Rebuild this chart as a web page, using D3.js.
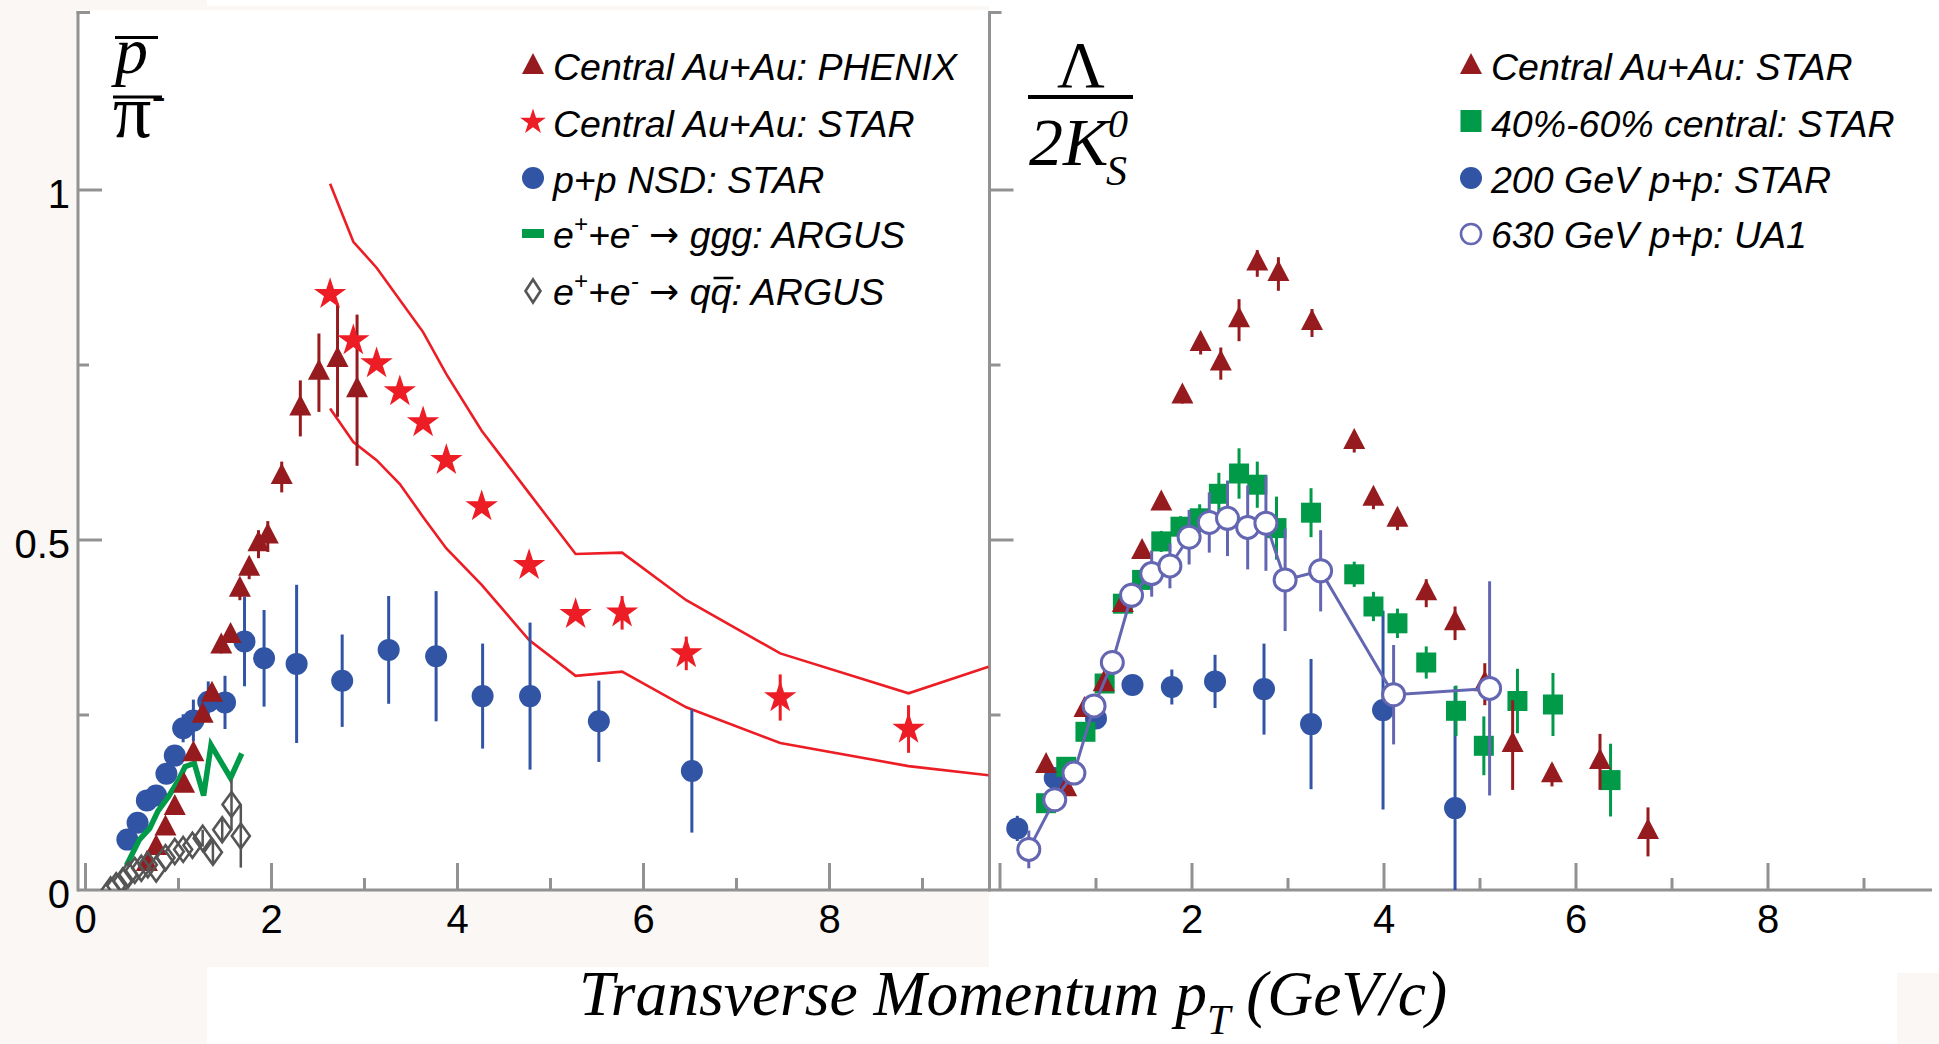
<!DOCTYPE html>
<html><head><meta charset="utf-8">
<script src="https://cdn.jsdelivr.net/npm/d3@7/dist/d3.min.js"></script>
<style>
html,body{margin:0;padding:0;background:#faf7f4;}
svg{display:block;}
</style></head><body>
<svg id="chart" width="1939" height="1044"></svg>
<script>
// ================= DATA: left panel  (pbar / pi-) =================
const phenixX   = [0.66,0.76,0.86,0.96,1.06,1.16,1.26,1.36,1.46,1.56,1.66,1.76,1.86,1.96,2.11,2.31,2.51,2.71,2.92];
const phenixY   = [0.037,0.060,0.088,0.117,0.149,0.194,0.249,0.279,0.348,0.363,0.429,0.459,0.494,0.505,0.590,0.688,0.739,0.757,0.714];
const phenixErr = [0,0,0,0,0,0,0,0,0.01,0.01,0.015,0.015,0.02,0.022,0.022,0.04,0.056,0.081,0.108];

const starAuX   = [2.63,2.88,3.13,3.38,3.63,3.88,4.26,4.77,5.27,5.77,6.46,7.47,8.85];
const starAuY   = [0.851,0.785,0.752,0.712,0.668,0.614,0.548,0.464,0.394,0.396,0.338,0.275,0.230];
const starAuErr = [0,0,0,0,0,0,0,0,0,0.024,0.024,0.033,0.034];

const bandX  = [2.63,2.88,3.13,3.38,3.63,3.88,4.26,4.77,5.27,5.77,6.46,7.47,8.85,9.71];
const bandHi = [1.009,0.926,0.889,0.843,0.797,0.737,0.656,0.567,0.480,0.482,0.414,0.338,0.281,0.319];
const bandLo = [0.688,0.640,0.614,0.580,0.533,0.488,0.436,0.357,0.306,0.312,0.261,0.210,0.177,0.164];

const ppNsdX   = [0.45,0.56,0.66,0.76,0.87,0.96,1.05,1.16,1.32,1.50,1.71,1.92,2.27,2.76,3.26,3.77,4.27,4.78,5.52,6.52];
const ppNsdY   = [0.072,0.096,0.128,0.135,0.166,0.192,0.231,0.242,0.269,0.268,0.355,0.331,0.323,0.299,0.343,0.334,0.277,0.277,0.241,0.170];
const ppNsdErr = [0,0,0,0,0.01,0.015,0.02,0.03,0.029,0.038,0.064,0.069,0.113,0.066,0.077,0.093,0.075,0.105,0.058,0.088];

const gggX = [0.44,0.58,0.69,0.78,0.89,1.00,1.07,1.17,1.27,1.35,1.56,1.68];
const gggY = [0.035,0.072,0.088,0.113,0.133,0.157,0.176,0.181,0.135,0.207,0.160,0.195];

const qqX   = [0.27,0.33,0.40,0.46,0.53,0.60,0.67,0.76,0.86,0.96,1.05,1.15,1.26,1.37,1.47,1.57,1.67];
const qqY   = [0.0,0.006,0.013,0.022,0.028,0.031,0.036,0.030,0.046,0.055,0.058,0.064,0.074,0.054,0.086,0.122,0.077];
const qqErr = [0,0,0,0,0,0,0,0,0,0,0,0,0.012,0.015,0.015,0.036,0.045];

// ================= DATA: right panel (Lambda / 2K0s) =================
const lkAuX   = [0.48,0.69,0.88,1.08,1.28,1.48,1.68,1.90,2.09,2.30,2.49,2.68,2.90,3.25,3.69,3.89,4.14,4.44,4.74,5.05,5.34,5.75,6.25,6.75];
const lkAuY   = [0.177,0.144,0.257,0.294,0.407,0.483,0.552,0.705,0.780,0.752,0.814,0.895,0.880,0.810,0.640,0.559,0.529,0.424,0.381,0.294,0.207,0.164,0.183,0.083];
const lkAuErr = [0,0,0,0,0,0,0,0.01,0.015,0.023,0.03,0.019,0.024,0.02,0.015,0.015,0.015,0.02,0.024,0.03,0.064,0.016,0.04,0.035];

const lkMidX   = [0.48,0.69,0.89,1.09,1.28,1.48,1.68,1.88,2.08,2.28,2.49,2.68,2.88,3.24,3.69,3.89,4.14,4.44,4.75,5.04,5.39,5.76,6.36];
const lkMidY   = [0.124,0.176,0.226,0.295,0.409,0.443,0.498,0.519,0.531,0.566,0.595,0.579,0.517,0.539,0.451,0.405,0.381,0.325,0.256,0.206,0.270,0.265,0.157];
const lkMidErr = [0,0,0,0,0.01,0.01,0.015,0.015,0.02,0.03,0.036,0.033,0.045,0.035,0.018,0.021,0.021,0.023,0.036,0.042,0.046,0.045,0.052];

const lkPpX   = [0.18,0.57,1.00,1.38,1.79,2.24,2.75,3.24,3.99,4.74];
const lkPpY   = [0.088,0.160,0.245,0.293,0.290,0.298,0.287,0.237,0.257,0.117];
const lkPpErr = [0.018,0,0,0,0.025,0.038,0.065,0.093,0.142,0.174];

const ua1X   = [0.30,0.57,0.77,0.98,1.17,1.37,1.58,1.77,1.97,2.18,2.37,2.58,2.77,2.97,3.34,4.10,5.10];
const ua1Y   = [0.058,0.129,0.167,0.263,0.325,0.421,0.452,0.463,0.504,0.525,0.531,0.518,0.524,0.443,0.456,0.279,0.288];
const ua1Err = [0.027,0,0.01,0.01,0.015,0.018,0.033,0.032,0.039,0.043,0.054,0.06,0.068,0.073,0.058,0.071,0.153];

// ================= ticks & labels =================
const xTicks = [0,1,2,3,4,5,6,7,8,9];
const xLabelsLeft  = [0,2,4,6,8];
const xLabelsRight = [2,4,6,8];
const yTicks = [0.25,0.5,0.75,1];
const yLabelVals = [0,0.5,1];
const yLabelText = ["0","0.5","1"];
const legendLeft  = ["Central Au+Au: PHENIX","Central Au+Au: STAR","p+p NSD: STAR"];
const legendRight = ["Central Au+Au: STAR","40%-60% central: STAR","200 GeV p+p: STAR","630 GeV p+p: UA1"];

// ================= styles =================
const C = {phenix:'#951b1e', star:'#ec1d25', pp:'#3154a5', ggg:'#009a48', qq:'#555555', ua1:'#6466b2', axis:'#929292', off:'#faf7f4'};
const SANS = '"Liberation Sans", Arial, Helvetica, sans-serif';
const SERIF = '"Liberation Serif", "Times New Roman", serif';

const svg = d3.select('#chart');
const zip = (xs, ys, es) => xs.map((x,i)=>({x, y:ys[i], e: es ? es[i] : 0}));

// backgrounds
svg.append('rect').attr('width',1939).attr('height',1044).attr('fill',C.off);
[[78,10,911,880],[989,0,950,1044],[207,967,782,77],[207,0,782,6]].forEach(r=>
  svg.append('rect').attr('x',r[0]).attr('y',r[1]).attr('width',r[2]).attr('height',r[3]).attr('fill','#fff'));
svg.append('rect').attr('x',1897).attr('y',973).attr('width',42).attr('height',71).attr('fill',C.off);

// scales
const yS = d3.scaleLinear().domain([0,1]).range([890,190]);
const xL = d3.scaleLinear().domain([0,9]).range([85.5,922.5]);
const xR = d3.scaleLinear().domain([0,9]).range([1000,1864]);

// ---------- axes ----------
const ax = svg.append('g').attr('stroke',C.axis).attr('stroke-width',3).attr('fill','none');
function yAxis(x0){
  ax.append('line').attr('x1',x0).attr('x2',x0).attr('y1',yS(1.255)).attr('y2',891.5);
  ax.append('line').attr('x1',x0-1.5).attr('x2',x0+12).attr('y1',yS(1.255)+1).attr('y2',yS(1.255)+1);
  yTicks.forEach(v=>{
    const len = (v===0.5||v===1) ? 24 : 11;
    ax.append('line').attr('x1',x0).attr('x2',x0+len).attr('y1',yS(v)).attr('y2',yS(v));
  });
}
function xAxis(xs, x0, x1){
  ax.append('line').attr('x1',x0).attr('x2',x1).attr('y1',890).attr('y2',890);
  xTicks.forEach(v=>{
    const len = v%2===0 ? 27 : 12;
    ax.append('line').attr('x1',xs(v)).attr('x2',xs(v)).attr('y1',890).attr('y2',890-len);
  });
}
yAxis(78); xAxis(xL,78,989);
yAxis(989.5); xAxis(xR,989,1932);

const tl = svg.append('g').attr('font-family',SANS).attr('font-size',40).attr('fill','#000');
xLabelsLeft.forEach(v=>tl.append('text').attr('x',xL(v)).attr('y',933).attr('text-anchor','middle').text(v));
xLabelsRight.forEach(v=>tl.append('text').attr('x',xR(v)).attr('y',933).attr('text-anchor','middle').text(v));
yLabelVals.forEach((v,i)=>tl.append('text').attr('x',70).attr('y',yS(v)+18).attr('text-anchor','end').text(yLabelText[i]));

// ---------- marker helpers ----------
const triPath = (w,h)=>`M0,${-2*h/3}L${w/2},${h/3}L${-w/2},${h/3}Z`;
const diaPath = (w,h)=>`M0,${-h/2}L${w/2},0L0,${h/2}L${-w/2},0Z`;
const starPath = R => d3.symbol(d3.symbolStar, R*R/0.8908130915292852)();

function errBars(g, data, xs, color, w){
  g.append('g').attr('stroke',color).attr('stroke-width',w||3)
    .selectAll('line').data(data.filter(d=>d.e>0)).join('line')
    .attr('x1',d=>xs(d.x)).attr('x2',d=>xs(d.x))
    .attr('y1',d=>yS(d.y+d.e)).attr('y2',d=>yS(Math.max(0,d.y-d.e)));
}
function markers(g, data, xs, path, fill, stroke, sw){
  g.append('g').selectAll('path').data(data).join('path')
    .attr('d',path).attr('transform',d=>`translate(${xs(d.x)},${yS(d.y)})`)
    .attr('fill',fill).attr('stroke',stroke||'none').attr('stroke-width',sw||0);
}
function dots(g, data, xs, r, fill, stroke, sw){
  g.append('g').selectAll('circle').data(data).join('circle')
    .attr('cx',d=>xs(d.x)).attr('cy',d=>yS(d.y)).attr('r',r)
    .attr('fill',fill).attr('stroke',stroke||'none').attr('stroke-width',sw||0);
}

// ---------- left panel ----------
svg.append('clipPath').attr('id','clipL').append('rect').attr('x',78).attr('y',0).attr('width',911).attr('height',890);
const gL = svg.append('g').attr('clip-path','url(#clipL)');

const lineL = d3.line().x(d=>xL(d.x)).y(d=>yS(d.y));
gL.append('path').datum(zip(bandX,bandHi)).attr('d',lineL).attr('fill','none').attr('stroke',C.star).attr('stroke-width',2.6);
gL.append('path').datum(zip(bandX,bandLo)).attr('d',lineL).attr('fill','none').attr('stroke',C.star).attr('stroke-width',2.6);

const ppNsd = zip(ppNsdX,ppNsdY,ppNsdErr);
errBars(gL, ppNsd, xL, C.pp); dots(gL, ppNsd, xL, 11, C.pp);

gL.append('path').datum(zip(gggX,gggY)).attr('d',lineL).attr('fill','none').attr('stroke',C.ggg).attr('stroke-width',5.5).attr('stroke-linejoin','miter');

const phen = zip(phenixX,phenixY,phenixErr);
errBars(gL, phen, xL, C.phenix); markers(gL, phen, xL, triPath(22,21), C.phenix);

const qq = zip(qqX,qqY,qqErr);
errBars(gL, qq, xL, C.qq, 2.5); markers(gL, qq, xL, diaPath(18,25), 'none', C.qq, 2.6);

const stAu = zip(starAuX,starAuY,starAuErr);
errBars(gL, stAu, xL, C.star); markers(gL, stAu, xL, starPath(17), C.star);

// ---------- right panel ----------
const gR = svg.append('g');
const lkPp = zip(lkPpX,lkPpY,lkPpErr);
errBars(gR, lkPp, xR, C.pp); dots(gR, lkPp, xR, 11, C.pp);
const lkMid = zip(lkMidX,lkMidY,lkMidErr);
errBars(gR, lkMid, xR, C.ggg); markers(gR, lkMid, xR, 'M-10,-10H10V10H-10Z', C.ggg);
const lkAu = zip(lkAuX,lkAuY,lkAuErr);
errBars(gR, lkAu, xR, C.phenix); markers(gR, lkAu, xR, triPath(22,21), C.phenix);
const ua1 = zip(ua1X,ua1Y,ua1Err);
errBars(gR, ua1, xR, C.ua1);
gR.append('path').datum(ua1).attr('d',d3.line().x(d=>xR(d.x)).y(d=>yS(d.y))).attr('fill','none').attr('stroke',C.ua1).attr('stroke-width',3);
dots(gR, ua1, xR, 11, '#fff', C.ua1, 3);

// ---------- legends ----------
function legText(x,y,parts){
  const t = svg.append('text').attr('x',x).attr('y',y).attr('font-family',SANS)
    .attr('font-style','italic').attr('font-size',37.5).attr('fill','#000');
  parts.forEach(p=>{
    const s = t.append('tspan').text(p.t);
    if(p.size) s.attr('font-size',p.size);
    if(p.dy) s.attr('dy',p.dy);
    if(p.family) s.attr('font-family',p.family);
    if(p.style) s.attr('font-style',p.style);
  });
  return t;
}
const LB = [80,137,193,248,305];
const lx = 533, ltx = 553;
svg.append('path').attr('d',triPath(22,21)).attr('transform',`translate(${lx},${LB[0]-13})`).attr('fill',C.phenix);
svg.append('path').attr('d',starPath(13.5)).attr('transform',`translate(${lx},${LB[1]-15})`).attr('fill',C.star);
svg.append('circle').attr('cx',lx).attr('cy',LB[2]-15).attr('r',11).attr('fill',C.pp);
svg.append('rect').attr('x',lx-11).attr('y',LB[3]-19).attr('width',22).attr('height',9).attr('fill',C.ggg);
svg.append('path').attr('d',diaPath(15,23)).attr('transform',`translate(${lx},${LB[4]-14})`).attr('fill','none').attr('stroke',C.qq).attr('stroke-width',2.6);
legendLeft.forEach((s,i)=>legText(ltx,LB[i],[{t:s}]));
const arrow = {t:'\u2192', family:'"DejaVu Sans", sans-serif', style:'normal', size:36, dy:-1};
legText(ltx,LB[3],[{t:'e'},{t:'+',size:24,dy:-16},{t:'+e',size:37.5,dy:16},{t:'-',size:24,dy:-16},{t:' ',size:37.5,dy:16},arrow,{t:' ggg: ARGUS',size:37.5,dy:1}]);
const qt = legText(ltx,LB[4],[{t:'e'},{t:'+',size:24,dy:-16},{t:'+e',size:37.5,dy:16},{t:'-',size:24,dy:-16},{t:' ',size:37.5,dy:16},arrow,{t:' q',size:37.5,dy:1},{t:'q'},{t:': ARGUS'}]);
{
  const n = qt.node();
  const s = n.getStartPositionOfChar(9).x, e = n.getEndPositionOfChar(9).x;
  svg.append('line').attr('x1',s+3).attr('x2',e+2).attr('y1',LB[4]-27).attr('y2',LB[4]-27).attr('stroke','#000').attr('stroke-width',2.5);
}

const rx = 1471, rtx = 1491;
svg.append('path').attr('d',triPath(22,21)).attr('transform',`translate(${rx},${LB[0]-13})`).attr('fill',C.phenix);
svg.append('rect').attr('x',rx-10.5).attr('y',LB[1]-27).attr('width',21).attr('height',22).attr('fill',C.ggg);
svg.append('circle').attr('cx',rx).attr('cy',LB[2]-15).attr('r',11).attr('fill',C.pp);
svg.append('circle').attr('cx',rx).attr('cy',LB[3]-14).attr('r',10).attr('fill','#fff').attr('stroke',C.ua1).attr('stroke-width',2.6);
legendRight.forEach((s,i)=>legText(rtx,LB[i],[{t:s}]));

// ---------- y labels (fractions) ----------
const lab = svg.append('g').attr('font-family',SERIF).attr('fill','#000');
lab.append('text').attr('x',115).attr('y',73).attr('font-size',66).attr('font-style','italic').text('p');
lab.append('line').attr('x1',115).attr('x2',158).attr('y1',37.5).attr('y2',37.5).attr('stroke','#000').attr('stroke-width',3);
lab.append('line').attr('x1',113).attr('x2',162).attr('y1',97).attr('y2',97).attr('stroke','#000').attr('stroke-width',3);
lab.append('text').attr('x',113).attr('y',137).attr('font-size',76).text('\u03c0');
lab.append('text').attr('x',152).attr('y',109).attr('font-size',40).text('-');

lab.append('text').attr('x',1081).attr('y',87).attr('font-size',66).attr('text-anchor','middle').text('\u039b');
lab.append('line').attr('x1',1028).attr('x2',1133).attr('y1',97).attr('y2',97).attr('stroke','#000').attr('stroke-width',4);
lab.append('text').attr('x',1029).attr('y',165).attr('font-size',68).attr('font-style','italic').text('2K');
lab.append('text').attr('x',1108).attr('y',137).attr('font-size',40).attr('font-style','italic').text('0');
lab.append('text').attr('x',1106).attr('y',185).attr('font-size',42).attr('font-style','italic').text('S');

// ---------- x title ----------
const xt = svg.append('text').attr('x',579).attr('y',1015).attr('font-family',SERIF).attr('font-style','italic').attr('font-size',63.5).attr('fill','#000');
xt.append('tspan').text('Transverse Momentum p');
xt.append('tspan').attr('font-size',42).attr('dy',19).text('T');
xt.append('tspan').attr('font-size',63.5).attr('dy',-19).text(' (GeV/c)');
</script>
</body></html>
